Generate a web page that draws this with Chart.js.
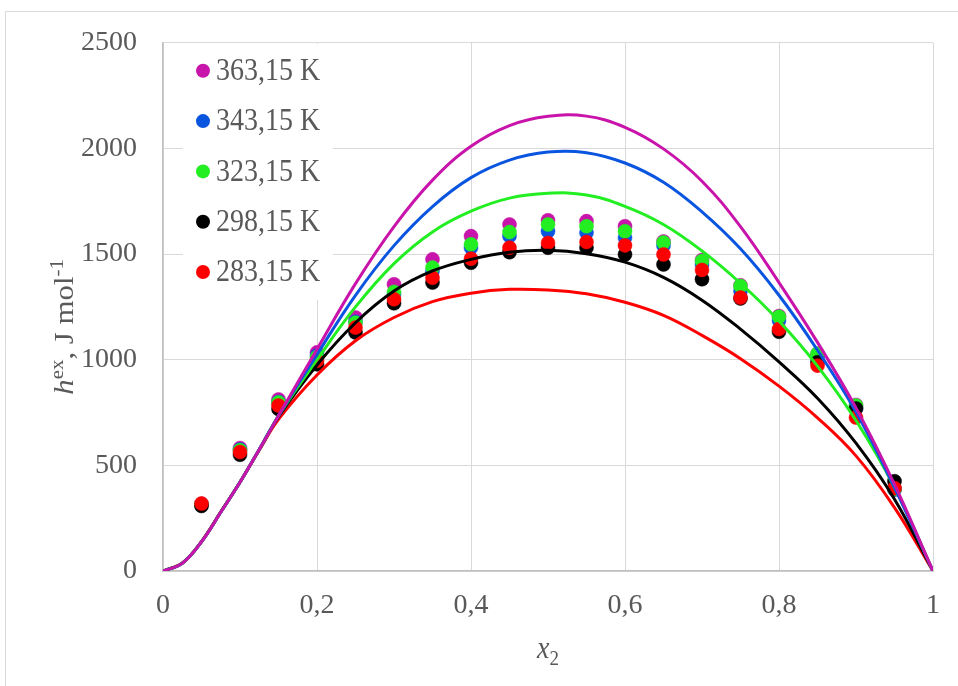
<!DOCTYPE html>
<html>
<head>
<meta charset="utf-8">
<script src="https://cdn.jsdelivr.net/npm/chart.js@4.4.1/dist/chart.umd.min.js"></script>
<style>
  html, body { margin: 0; padding: 0; background: #fff; }
  #wrap { width: 958px; height: 686px; }
</style>
</head>
<body>
<div id="wrap"><canvas id="chart" width="958" height="686"></canvas></div>
<script>
/* --- DATA --- */
const temps = ['363,15 K', '343,15 K', '323,15 K', '298,15 K', '283,15 K'];
const xTickLabels = ['0', '0,2', '0,4', '0,6', '0,8', '1'];
const yTickLabels = ['0', '500', '1000', '1500', '2000', '2500'];

// experimental points
const expX = [0.05, 0.1, 0.15, 0.2, 0.25, 0.3, 0.35, 0.4, 0.45, 0.5, 0.55, 0.6, 0.65, 0.7, 0.75, 0.8, 0.85, 0.9, 0.95];
const exp363 = [318, 582, 812, 1035, 1200, 1357, 1475, 1585, 1640, 1660, 1656, 1632, 1560, 1472, 1352, 1207, 1028, 786, 386];
const exp343 = [314, 575, 800, 1020, 1180, 1310, 1420, 1530, 1585, 1608, 1601, 1577, 1540, 1450, 1325, 1185, 1012, 770, 386];
const exp323 = [315, 572, 798, 1012, 1175, 1321, 1436, 1546, 1604, 1640, 1632, 1608, 1555, 1467, 1349, 1203, 1028, 783, 388];
const exp298 = [308, 550, 767, 978, 1129, 1267, 1365, 1459, 1509, 1530, 1530, 1498, 1451, 1381, 1290, 1132, 988, 769, 425];
const exp283 = [319, 563, 783, 995, 1152, 1286, 1388, 1478, 1530, 1553, 1557, 1541, 1498, 1425, 1294, 1145, 972, 726, 392];

// model curves
const curveX = [0, 0.025, 0.05, 0.075, 0.1, 0.125, 0.15, 0.2, 0.25, 0.3, 0.35, 0.4, 0.45, 0.5, 0.55, 0.6, 0.65, 0.7, 0.75, 0.8, 0.85, 0.9, 0.95, 1];
const fit363 = [0, 36, 138, 278, 420, 575, 735, 1050, 1360, 1630, 1850, 2010, 2108, 2152, 2153, 2100, 1998, 1845, 1630, 1365, 1082, 772, 410, 0];
const fit343 = [0, 36, 138, 278, 420, 575, 735, 1025, 1305, 1540, 1725, 1862, 1945, 1983, 1980, 1931, 1840, 1700, 1525, 1305, 1045, 752, 395, 0];
const fit323 = [0, 36, 138, 278, 420, 575, 735, 1000, 1250, 1455, 1605, 1703, 1765, 1788, 1780, 1726, 1640, 1515, 1362, 1183, 970, 712, 395, 0];
const fit298 = [0, 37, 139, 279, 421, 575, 730, 975, 1175, 1325, 1420, 1475, 1509, 1518, 1502, 1462, 1390, 1282, 1145, 990, 818, 605, 340, 0];
const fit283 = [0, 38, 140, 280, 420, 572, 718, 928, 1090, 1200, 1275, 1315, 1333, 1330, 1312, 1272, 1210, 1115, 1005, 875, 725, 545, 300, 0];

/* --- STYLE --- */
const seriesColors = ['#C814AA', '#0A55E0', '#22EE22', '#000000', '#FF0000'];
const FONT = "'Liberation Serif', 'Times New Roman', serif";
const TEXT = '#595959';

const expSets = [exp363, exp343, exp323, exp298, exp283];
const fitSets = [fit363, fit343, fit323, fit298, fit283];
const toPts = (xs, ys) => xs.map((x, i) => ({ x: x, y: ys[i] }));

const datasets = [];
// points: later series drawn on top (red over black over green ...)
expSets.forEach((ys, i) => {
    datasets.push({
        label: temps[i],
        data: toPts(expX, ys),
        showLine: false,
        pointRadius: 7,
        pointHoverRadius: 7,
        pointBackgroundColor: seriesColors[i],
        pointBorderColor: seriesColors[i],
        pointBorderWidth: 0.5,
        order: 20 - i
    });
});
// curves: magenta on top
fitSets.forEach((ys, i) => {
    datasets.push({
        label: 'fit ' + temps[i],
        data: toPts(curveX, ys),
        showLine: true,
        borderColor: seriesColors[i],
        borderWidth: 3,
        pointRadius: 0,
        tension: 0.4,
        order: 1 + i
    });
});

/* --- PLUGINS --- */
const frame = {
    id: 'frame',
    beforeDraw(chart) {
        const ctx = chart.ctx;
        ctx.save();
        ctx.fillStyle = '#fff';
        ctx.fillRect(0, 0, chart.width, chart.height);
        ctx.strokeStyle = '#d9d9d9';
        ctx.lineWidth = 1;
        ctx.beginPath();
        ctx.moveTo(5.5, chart.height);
        ctx.lineTo(5.5, 11.5);
        ctx.lineTo(chart.width, 11.5);
        ctx.stroke();
        ctx.restore();
    }
};

const inLegend = {
    id: 'inLegend',
    beforeDatasetsDraw(chart) {
        const ctx = chart.ctx;
        const a = chart.chartArea;
        ctx.save();
        ctx.fillStyle = '#fff';
        ctx.fillRect(a.left + 20, a.top + 1, 150, 256);
        ctx.font = '28px ' + FONT;
        ctx.textBaseline = 'middle';
        ctx.textAlign = 'left';
        temps.forEach((t, i) => {
            const y = a.top + 28 + i * 50.3;
            ctx.fillStyle = seriesColors[i];
            ctx.beginPath();
            ctx.arc(a.left + 40, y, 7, 0, Math.PI * 2);
            ctx.fill();
            ctx.fillStyle = TEXT;
            ctx.save();
            ctx.translate(a.left + 53, y + 1);
            ctx.scale(1, 1.12);
            ctx.fillText(t, 0, 0);
            ctx.restore();
        });
        ctx.restore();
    }
};

const axisTitles = {
    id: 'axisTitles',
    afterDraw(chart) {
        const ctx = chart.ctx;
        const a = chart.chartArea;
        ctx.save();
        ctx.fillStyle = TEXT;
        ctx.textBaseline = 'alphabetic';
        ctx.textAlign = 'left';

        // x title: x2
        const xMid = (a.left + a.right) / 2;
        ctx.font = 'italic 28px ' + FONT;
        const wx = ctx.measureText('x').width;
        ctx.font = '19px ' + FONT;
        const w2 = ctx.measureText('2').width;
        let x0 = xMid - (wx + w2) / 2;
        ctx.save();
        ctx.translate(0, 658);
        ctx.scale(1, 1.12);
        ctx.font = 'italic 28px ' + FONT;
        ctx.fillText('x', x0, 0);
        ctx.font = '19px ' + FONT;
        ctx.fillText('2', x0 + wx, 6);
        ctx.restore();

        // y title: h^ex, J mol^-1 (rotated)
        const parts = [
            { t: 'h', f: 'italic 28px ' + FONT, dy: 0 },
            { t: 'ex', f: '19px ' + FONT, dy: -10 },
            { t: ', J mol', f: '28px ' + FONT, dy: 0 },
            { t: '-1', f: '19px ' + FONT, dy: -10 }
        ];
        let total = 0;
        parts.forEach(p => { ctx.font = p.f; p.w = ctx.measureText(p.t).width; total += p.w; });
        ctx.translate(73, (a.top + a.bottom) / 2 + 20);
        ctx.rotate(-Math.PI / 2);
        ctx.scale(1.1, 1);
        let px = -total / 2;
        parts.forEach(p => {
            ctx.font = p.f;
            ctx.fillText(p.t, px, p.dy);
            px += p.w;
        });
        ctx.restore();
    }
};

/* --- CHART --- */
new Chart(document.getElementById('chart'), {
    type: 'scatter',
    data: { datasets: datasets },
    options: {
        responsive: false,
        animation: false,
        events: [],
        layout: { padding: { top: 41, right: 24, left: 0, bottom: 0 } },
        plugins: {
            legend: { display: false },
            tooltip: { enabled: false }
        },
        scales: {
            x: {
                type: 'linear',
                min: 0, max: 1,
                grid: { color: '#d9d9d9', lineWidth: 1, drawTicks: false },
                border: { color: '#bfbfbf', width: 1.5 },
                ticks: {
                    stepSize: 0.2,
                    padding: 18,
                    color: TEXT,
                    font: { family: FONT, size: 28 },
                    maxRotation: 0,
                    callback: (v, i) => xTickLabels[i]
                },
                afterFit: s => { s.height = 115; }
            },
            y: {
                type: 'linear',
                min: 0, max: 2500,
                grid: { color: '#d9d9d9', lineWidth: 1, drawTicks: false },
                border: { color: '#bfbfbf', width: 1.5 },
                ticks: {
                    stepSize: 500,
                    padding: 26,
                    color: TEXT,
                    font: { family: FONT, size: 28 },
                    callback: (v, i) => yTickLabels[i]
                },
                afterFit: s => { s.width = 163; }
            }
        }
    },
    plugins: [frame, inLegend, axisTitles]
});
</script>
</body>
</html>
